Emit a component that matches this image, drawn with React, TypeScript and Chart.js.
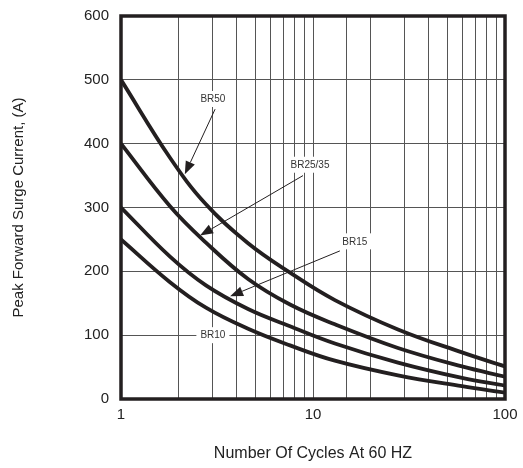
import React, { useEffect, useRef } from "react";
import { Chart, registerables } from "chart.js";

Chart.register(...registerables);

const cycles = [1, 1.8, 2.77, 4.59, 7.59, 13.0, 27.7, 59.7, 100];
const br50 = [500, 378, 305, 244, 198, 155, 109, 73, 51];
const br2535 = [400, 302, 245, 188, 148, 117, 80, 51, 35];
const br15 = [300, 223, 178, 141, 114, 87, 57, 33, 21];
const br10 = [250, 183, 143, 110, 84, 60, 37, 20, 10];
const xTickLabels = [1, 10, 100];
const yTicks = [0, 100, 200, 300, 400, 500, 600];

const seriesNames = ["BR50", "BR25/35", "BR15", "BR10"];
const seriesValues = [br50, br2535, br15, br10];

// annotation labels (data coordinates): label position, arrow start, arrow tip
const noteNames = ["BR50", "BR25/35", "BR15", "BR10"];
const noteLabelAt = [
  [3.01, 470],
  [9.65, 367],
  [16.5, 247],
  [3.01, 100],
];
const noteArrowFrom: (number[] | null)[] = [[3.09, 454], [8.87, 350], [13.8, 232], null];
const noteArrowTo: (number[] | null)[] = [[2.15, 352], [2.58, 256], [3.7, 161], null];

const INK = "#231f20";
const FONT = "'Liberation Sans', Arial, sans-serif";

const notesPlugin = {
  id: "notes",
  afterDatasetsDraw(chart: any) {
    const { ctx, chartArea, scales } = chart;
    const xs = scales.x;
    const ys = scales.y;
    ctx.save();
    for (let i = 0; i < noteNames.length; i++) {
      const f = noteArrowFrom[i];
      const t = noteArrowTo[i];
      if (!f || !t) continue;
      const x0 = xs.getPixelForValue(f[0]);
      const y0 = ys.getPixelForValue(f[1]);
      const x1 = xs.getPixelForValue(t[0]);
      const y1 = ys.getPixelForValue(t[1]);
      const ang = Math.atan2(y1 - y0, x1 - x0);
      const headLen = 13;
      const headW = 5;
      const bx = x1 - headLen * Math.cos(ang);
      const by = y1 - headLen * Math.sin(ang);
      ctx.strokeStyle = INK;
      ctx.lineWidth = 1;
      ctx.beginPath();
      ctx.moveTo(x0, y0);
      ctx.lineTo(bx, by);
      ctx.stroke();
      ctx.fillStyle = INK;
      ctx.beginPath();
      ctx.moveTo(x1, y1);
      ctx.lineTo(bx + headW * Math.sin(ang), by - headW * Math.cos(ang));
      ctx.lineTo(bx - headW * Math.sin(ang), by + headW * Math.cos(ang));
      ctx.closePath();
      ctx.fill();
    }
    ctx.font = `10px ${FONT}`;
    ctx.textAlign = "center";
    ctx.textBaseline = "middle";
    for (let i = 0; i < noteNames.length; i++) {
      const p = noteLabelAt[i];
      const x = xs.getPixelForValue(p[0]);
      const y = ys.getPixelForValue(p[1]);
      const w = ctx.measureText(noteNames[i]).width + 8;
      ctx.fillStyle = "#ffffff";
      ctx.fillRect(x - w / 2, y - 8, w, 16);
      ctx.fillStyle = "#333333";
      ctx.fillText(noteNames[i], x, y + 0.5);
    }
    ctx.strokeStyle = INK;
    ctx.lineWidth = 3.5;
    ctx.strokeRect(
      chartArea.left,
      chartArea.top,
      chartArea.right - chartArea.left,
      chartArea.bottom - chartArea.top
    );
    ctx.restore();
  },
};

export default function App() {
  const ref = useRef<HTMLCanvasElement | null>(null);
  useEffect(() => {
    document.body.style.margin = "0";
    const canvas = ref.current;
    if (!canvas) return;
    const chart = new Chart(canvas, {
      type: "line",
      data: {
        datasets: seriesValues.map((vals, i) => ({
          label: seriesNames[i],
          data: cycles.map((c, j) => ({ x: c, y: vals[j] })),
          borderColor: INK,
          borderWidth: 3.8,
          pointRadius: 0,
          fill: false,
          tension: 0.4,
        })),
      },
      options: {
        animation: false,
        responsive: false,
        maintainAspectRatio: false,
        layout: { padding: { left: 0, right: 18, top: 16, bottom: 0 } },
        plugins: { legend: { display: false }, tooltip: { enabled: false } },
        scales: {
          x: {
            type: "logarithmic",
            min: 1,
            max: 100,
            afterFit: (s: any) => {
              s.height = 69;
              s.paddingLeft = 0;
              s.paddingRight = 0;
            },
            border: { display: false },
            grid: { color: "#555555", lineWidth: 1, drawTicks: false },
            ticks: {
              autoSkip: false,
              maxRotation: 0,
              padding: 7,
              color: "#222",
              font: { family: FONT, size: 15 },
              callback: (v: any) => (xTickLabels.includes(Number(v)) ? String(v) : ""),
            },
            title: {
              display: true,
              text: "Number Of Cycles At 60 HZ",
              color: "#222",
              font: { family: FONT, size: 16 },
              padding: { top: 4, bottom: 5 },
            },
          },
          y: {
            min: 0,
            max: 600,
            afterFit: (s: any) => {
              s.width = 121;
              s.paddingTop = 0;
              s.paddingBottom = 0;
            },
            afterBuildTicks: (s: any) => {
              s.ticks = yTicks.map((v) => ({ value: v }));
            },
            border: { display: false },
            grid: { color: "#555555", lineWidth: 1, drawTicks: false },
            ticks: {
              padding: 12,
              color: "#222",
              font: { family: FONT, size: 15 },
            },
            title: {
              display: true,
              text: "Peak Forward Surge Current, (A)",
              color: "#222",
              font: { family: FONT, size: 15 },
              padding: { top: 10, bottom: 0 },
            },
          },
        },
      },
      plugins: [notesPlugin],
    });
    return () => chart.destroy();
  }, []);
  return (
    <div style={{ width: 523, height: 468, background: "#fff" }}>
      <canvas ref={ref} width={523} height={468} style={{ display: "block" }} />
    </div>
  );
}
